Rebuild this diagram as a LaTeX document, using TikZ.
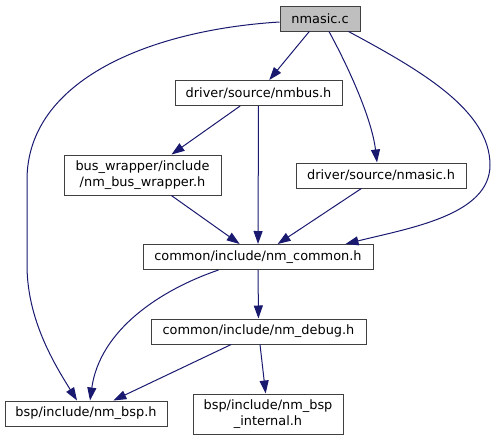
\documentclass[tikz,border=0pt]{standalone}
\usepackage{fontspec}
\setmainfont{DejaVu Sans}
\usetikzlibrary{arrows.meta,calc}
\definecolor{edge-blue}{HTML}{191970}
\definecolor{box-draw}{RGB}{64,64,64}
\definecolor{root-fill}{HTML}{BFBFBF}

\begin{document}
\begin{tikzpicture}[x=1pt,y=-1pt,
 file/.style={draw=box-draw, fill=white, line width=1pt, font=\fontsize{12.9}{15.5}\selectfont, align=center, inner sep=0pt, minimum height=25pt},
 incl/.style={edge-blue, line width=1pt, -{Triangle[length=13pt,width=9pt]}},
]
 \useasboundingbox (0,0) rectangle (496,440);
 %
 \node[file, fill=root-fill, minimum width=80pt] (nmasicc) at (320,18.5) {nmasic.c};
 \node[file, minimum width=167pt] (nmbus) at (258.5,93) {driver/source/nmbus.h};
 \node[file, minimum width=157pt, minimum height=40pt] (wrapper) at (142.5,175) {bus\_wrapper/include\\/nm\_bus\_wrapper.h};
 \node[file, minimum width=170pt] (nmasich) at (381,175.5) {driver/source/nmasic.h};
 \node[file, minimum width=230pt] (common) at (258,257) {common/include/nm\_common.h};
 \node[file, minimum width=215pt] (debug) at (258.5,331.5) {common/include/nm\_debug.h};
 \node[file, minimum width=162pt] (bsp) at (86,413.5) {bsp/include/nm\_bsp.h};
 \node[file, minimum width=150pt, minimum height=40pt] (internal) at (268,414) {bsp/include/nm\_bsp\\\_internal.h};

 %
 \draw[incl] ($(nmasicc.west)+(0,3.5)$) .. controls (150,30) and (27,80) .. (27,180) -- (27,265) .. controls (27,320) and (55,365) .. ($(bsp.north)+(-9,0)$);
 \draw[incl] (nmasicc) -- (nmbus);
 \draw[incl] ($(nmasicc.south)+(9,0)$) .. controls (350,70) and (372,120) .. ($(nmasich.north)+(-4,0)$);
 \draw[incl] ($(nmasicc.south east)+(-12,0)$) .. controls (420,70) and (490,110) .. (490,165) .. controls (490,215) and (410,228) .. ($(common.north east)+(-28,0)$);

 %
 \draw[incl] (nmbus) -- (wrapper);
 \draw[incl] (nmbus) -- (common);
 \draw[incl] (wrapper) -- (common);
 \draw[incl] (nmasich) -- (common);

 %
 \draw[incl] ($(common.south west)+(76,0)$) .. controls (160,290) and (100,330) .. ($(bsp.north)+(4,0)$);
 \draw[incl] (common) -- (debug);
 \draw[incl] (debug) -- (bsp);
 \draw[incl] (debug) -- (internal);
\end{tikzpicture}
\end{document}
